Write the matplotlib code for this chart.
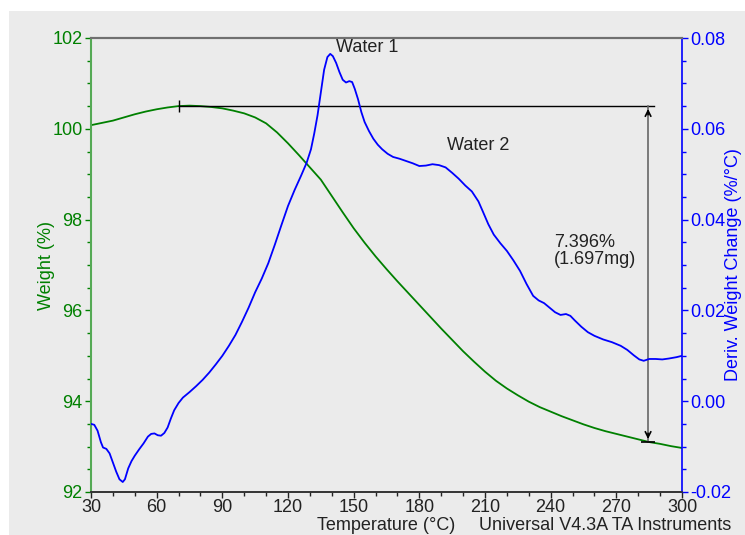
import matplotlib.pyplot as plt
import matplotlib.patches as patches

plt.rcParams['font.family'] = ['Liberation Sans', 'DejaVu Sans']

# weight curve (%) vs temperature (C)
temp_w = [30, 35, 40, 45, 50, 55, 60, 65, 70, 75, 80, 85, 90, 95, 100, 105, 110,
          115, 120, 125, 130, 135, 140, 145, 150, 155, 160, 165, 170, 175, 180,
          185, 190, 195, 200, 205, 210, 215, 220, 225, 230, 235, 240, 245, 250,
          255, 260, 265, 270, 275, 280, 285, 290, 295, 300]
weight = [100.08, 100.13, 100.18, 100.25, 100.32, 100.38, 100.43, 100.47, 100.50,
          100.51, 100.50, 100.48, 100.45, 100.40, 100.34, 100.25, 100.12, 99.92,
          99.68, 99.42, 99.15, 98.88, 98.52, 98.16, 97.81, 97.49, 97.19, 96.91,
          96.64, 96.38, 96.12, 95.86, 95.60, 95.35, 95.10, 94.87, 94.65, 94.45,
          94.28, 94.13, 93.99, 93.87, 93.77, 93.67, 93.58, 93.49, 93.41, 93.34,
          93.28, 93.22, 93.16, 93.10, 93.06, 93.01, 92.97]

# derivative weight change (%/C)
temp_d = [30, 31.5, 33, 34.5, 35.5, 37, 38.5, 40, 41.5, 43, 44.5, 45.5, 47, 48.5,
          50, 52, 54, 56, 57.5, 59, 60.5, 62, 63.5, 65, 66.5, 68, 70, 72, 75, 78,
          81, 84, 87, 90, 93, 96, 99, 102, 105, 108, 111, 114, 117, 120, 123, 126,
          128.5, 130.5, 132, 133.5, 135, 136.5, 138, 139.3, 140.5, 142, 143.5, 145,
          146.5, 148, 149.3, 150.5, 152, 153.5, 155, 157, 159, 161, 163, 165.5,
          168, 171, 174, 177, 180, 183, 186, 189, 192, 195, 198, 201, 204, 207,
          209, 211.5, 214, 217, 220, 223, 226, 229, 232, 234.5, 237, 239.5, 242,
          244.5, 247, 249, 251, 254, 257, 260, 264, 268, 272, 275, 278, 280.5,
          282.5, 285, 288, 291, 294, 297.5, 300]
deriv = [-0.0050, -0.0052, -0.0065, -0.0090, -0.0102, -0.0105, -0.0115, -0.0135,
         -0.0155, -0.0172, -0.0178, -0.0172, -0.0148, -0.0132, -0.0120, -0.0106,
         -0.0093, -0.0078, -0.0072, -0.0071, -0.0075, -0.0076, -0.0070, -0.0058,
         -0.0038, -0.0020, -0.0004, 0.0008, 0.0020, 0.0033, 0.0047, 0.0063,
         0.0081, 0.0100, 0.0122, 0.0146, 0.0175, 0.0206, 0.0240, 0.0270, 0.0304,
         0.0345, 0.0388, 0.0430, 0.0465, 0.0497, 0.0525, 0.0555, 0.0590, 0.0630,
         0.0680, 0.0730, 0.0758, 0.0765, 0.0760, 0.0745, 0.0725, 0.0708, 0.0702,
         0.0705, 0.0703, 0.0688, 0.0665, 0.0637, 0.0615, 0.0595, 0.0578, 0.0565,
         0.0555, 0.0545, 0.0538, 0.0534, 0.0529, 0.0524, 0.0518, 0.0519, 0.0522,
         0.0520, 0.0515, 0.0503, 0.0490, 0.0475, 0.0462, 0.0440, 0.0418, 0.0390,
         0.0367, 0.0348, 0.0331, 0.0310, 0.0287, 0.0258, 0.0232, 0.0222, 0.0216,
         0.0206, 0.0196, 0.0190, 0.0192, 0.0188, 0.0178, 0.0164, 0.0152, 0.0144,
         0.0136, 0.0130, 0.0122, 0.0113, 0.0101, 0.0092, 0.0089, 0.0093, 0.0093,
         0.0092, 0.0094, 0.0097, 0.0100]

# step analysis
step_t0, step_t1 = 70.2, 284.5
step_w0 = 100.5
step_loss = 7.396
step_mass = 1.697

green = '#008000'
blue = '#0000ff'

fig = plt.figure(figsize=(7.45, 5.35), dpi=100, facecolor='#ebebeb')
fig.patches.append(patches.Rectangle((0, 1 - 11 / 535), 1, 11 / 535, transform=fig.transFigure,
                                     facecolor='white', edgecolor='none', zorder=-1))
fig.patches.append(patches.Rectangle((0, 0), 9 / 745, 1, transform=fig.transFigure,
                                     facecolor='white', edgecolor='none', zorder=-1))

ax = fig.add_axes([91 / 745, 43 / 535, 591 / 745, 454 / 535])
ax.set_facecolor('#ebebeb')
ax2 = ax.twinx()

ax.plot(temp_w, weight, color=green, lw=1.3)
ax2.plot(temp_d, deriv, color=blue, lw=1.3)

ax.set_xlim(30, 300)
ax.set_ylim(92, 102)
ax2.set_ylim(-0.02, 0.08)
ax.set_xticks(range(30, 301, 30))
ax.set_xticks(range(30, 301, 10), minor=True)
ax.set_yticks([92, 94, 96, 98, 100, 102])
ax.set_yticks([92 + 0.5 * i for i in range(21)], minor=True)
ax2.set_yticks([-0.02, 0.0, 0.02, 0.04, 0.06, 0.08])
ax2.set_yticks([-0.02 + 0.005 * i for i in range(21)], minor=True)
ax2.set_yticklabels(['-0.02', '0.00', '0.02', '0.04', '0.06', '0.08'])

ax.tick_params(axis='x', which='major', length=4, width=1, colors='#222222', labelsize=13, pad=1)
ax.tick_params(axis='x', which='minor', length=3, width=1, colors='#222222')
ax.tick_params(axis='y', which='major', length=4, width=1, colors=green, labelsize=13, pad=2)
ax.tick_params(axis='y', which='minor', length=3, width=1, colors=green)
ax2.tick_params(axis='y', which='major', length=4, width=1, colors=blue, labelsize=13, pad=2)
ax2.tick_params(axis='y', which='minor', length=3, width=1, colors=blue)

for a in (ax, ax2):
    a.spines['top'].set_color('#707070')
    a.spines['top'].set_linewidth(1.5)
    a.spines['bottom'].set_color('#333333')
    a.spines['bottom'].set_linewidth(1.2)
ax.spines['left'].set_color('#55aa55')
ax.spines['left'].set_linewidth(1.5)
ax.spines['right'].set_visible(False)
ax2.spines['left'].set_visible(False)
ax2.spines['right'].set_color(blue)
ax2.spines['right'].set_linewidth(1.2)

ax.set_ylabel('Weight (%)', color=green, fontsize=13)
ax.yaxis.set_label_coords(-0.061, 0.5)
ax2.set_ylabel('Deriv. Weight Change (%/°C)', color=blue, fontsize=13)
ax2.yaxis.set_label_coords(1.072, 0.5)

fig.text(386 / 745, 1 - 525 / 535, 'Temperature (°C)', fontsize=13, color='#222222',
         ha='center', va='center')
fig.text(479 / 745, 1 - 525 / 535, 'Universal V4.3A TA Instruments', fontsize=13,
         color='#222222', ha='left', va='center')

# step annotation
step_w1 = step_w0 - step_loss
ax.plot([step_t0, step_t1 + 2.5], [step_w0, step_w0], color='black', lw=1, zorder=5)
ax.plot([step_t0], [step_w0], marker='|', color='black', ms=8, mew=1, zorder=5)
ax.plot([step_t1, step_t1], [step_w0, step_w1], color='#666666', lw=1.2, zorder=5)
ax.plot([step_t1], [step_w1], marker='_', color='black', ms=10, mew=1.2, zorder=5)
ax.annotate('', xy=(step_t1, step_w0), xytext=(step_t1, step_w0 - 0.25),
            arrowprops=dict(arrowstyle='->', color='black', lw=1.2), zorder=6)
ax.annotate('', xy=(step_t1, step_w1), xytext=(step_t1, step_w1 + 0.25),
            arrowprops=dict(arrowstyle='->', color='black', lw=1.2), zorder=6)

ax.text(241.5, 97.31, f'{step_loss:.3f}%\n({step_mass:.3f}mg)', fontsize=13,
        color='#222222', ha='left', va='center', linespacing=1.0)
ax.text(141.9, 101.78, 'Water 1', fontsize=13, color='#222222', ha='left', va='center')
ax.text(192.6, 99.64, 'Water 2', fontsize=13, color='#222222', ha='left', va='center')

fig.savefig('out.png', dpi=100, facecolor=fig.get_facecolor())
